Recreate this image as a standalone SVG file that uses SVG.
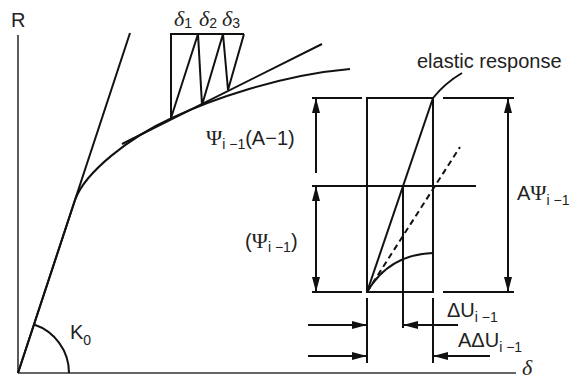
<svg xmlns="http://www.w3.org/2000/svg" width="579" height="380" viewBox="0 0 579 380">
<defs>
<marker id="ah" viewBox="0 0 15 8" refX="15" refY="4" markerWidth="15" markerHeight="8" markerUnits="userSpaceOnUse" orient="auto-start-reverse">
<path d="M0,0 L15,4 L0,8 z" fill="#111"/>
</marker>
<style>
.ln{stroke:#111;stroke-width:2;fill:none}
.ax{stroke:#333;stroke-width:1.6;fill:none}
.ar{stroke:#111;stroke-width:2;fill:none;marker-end:url(#ah)}
.ar2{stroke:#111;stroke-width:2;fill:none;marker-end:url(#ah);marker-start:url(#ah)}
.t{font-family:"Liberation Sans",Arial,sans-serif;font-size:20px;fill:#222}
.s{font-size:14px}
.g{font-family:"Liberation Serif","Times New Roman",serif;font-size:22px}
.d{font-family:"Liberation Serif","Times New Roman",serif;font-style:italic;font-size:22px;fill:#222}
</style>
</defs>
<g id="axes">
<line class="ax" x1="18" y1="35" x2="18" y2="373"/>
<line class="ax" x1="18" y1="373" x2="516" y2="373"/>
<text class="t" x="11" y="27">R</text>
<text class="d" x="522" y="375">δ</text>
</g>
<g id="backbone">
<line class="ln" x1="18" y1="373" x2="130" y2="33"/>
<path class="ln" d="M18,373 L75,200 C85,172 130,137 172,118 C210,100 280,75 350,69"/>
<line class="ln" x1="122" y1="144" x2="322" y2="44"/>
<path class="ln" d="M244,34 L171,34 L171,118 L198,34 L202,105 L223,34 L228,90 L244,34"/>
<path class="ln" d="M34,324.5 A51,51 0 0 1 69,373"/>
<text class="t" x="70" y="339">K<tspan class="s" dy="6">0</tspan></text>
<text class="d" x="174" y="26">δ<tspan class="t s" font-style="normal" dy="2">1</tspan></text>
<text class="d" x="199" y="26">δ<tspan class="t s" font-style="normal" dy="2">2</tspan></text>
<text class="d" x="222" y="26">δ<tspan class="t s" font-style="normal" dy="2">3</tspan></text>
</g>
<g id="detail">
<line class="ln" x1="312" y1="98" x2="362" y2="98"/>
<line class="ln" x1="443" y1="98" x2="514" y2="98"/>
<line class="ln" x1="312" y1="186" x2="476" y2="186"/>
<line class="ln" x1="312" y1="292" x2="362" y2="292"/>
<line class="ln" x1="443" y1="292" x2="514" y2="292"/>
<rect class="ln" x="367" y="98" width="66" height="194"/>
<line class="ln" x1="367" y1="292" x2="433" y2="98"/>
<path class="ln" d="M433,98 Q445,83 462,73"/>
<line class="ln" x1="367" y1="292" x2="460" y2="147" stroke-dasharray="6,4"/>
<path class="ln" d="M367,292 C380,270 400,254 433,253"/>
<line class="ln" x1="403" y1="186" x2="403" y2="328"/>
<line class="ln" x1="367" y1="298" x2="367" y2="363"/>
<line class="ln" x1="433" y1="298" x2="433" y2="363"/>
</g>
<g id="connectors">
<line class="ar" x1="316" y1="173" x2="316" y2="98"/>
<line class="ar2" x1="316" y1="186" x2="316" y2="292"/>
<line class="ar2" x1="508" y1="98" x2="508" y2="292"/>
<line class="ar" x1="308" y1="325" x2="367" y2="325"/>
<line class="ar" x1="458" y1="325" x2="403" y2="325"/>
<line class="ar" x1="308" y1="356" x2="367" y2="356"/>
<line class="ar" x1="490" y1="356" x2="433" y2="356"/>
</g>
<g id="labels">
<text class="t" x="417" y="68">elastic response</text>
<text class="t" x="206" y="145"><tspan class="g">Ψ</tspan><tspan class="s" dy="4">i −1</tspan><tspan dy="-4">(A−1)</tspan></text>
<text class="t" x="245" y="248">(<tspan class="g">Ψ</tspan><tspan class="s" dy="4">i −1</tspan><tspan dy="-4">)</tspan></text>
<text class="t" x="517" y="200">A<tspan class="g">Ψ</tspan><tspan class="s" dy="5">i −1</tspan></text>
<text class="t" x="447" y="317">ΔU<tspan class="s" dy="5">i −1</tspan></text>
<text class="t" x="458" y="347">AΔU<tspan class="s" dy="5">i −1</tspan></text>
</g>
</svg>
